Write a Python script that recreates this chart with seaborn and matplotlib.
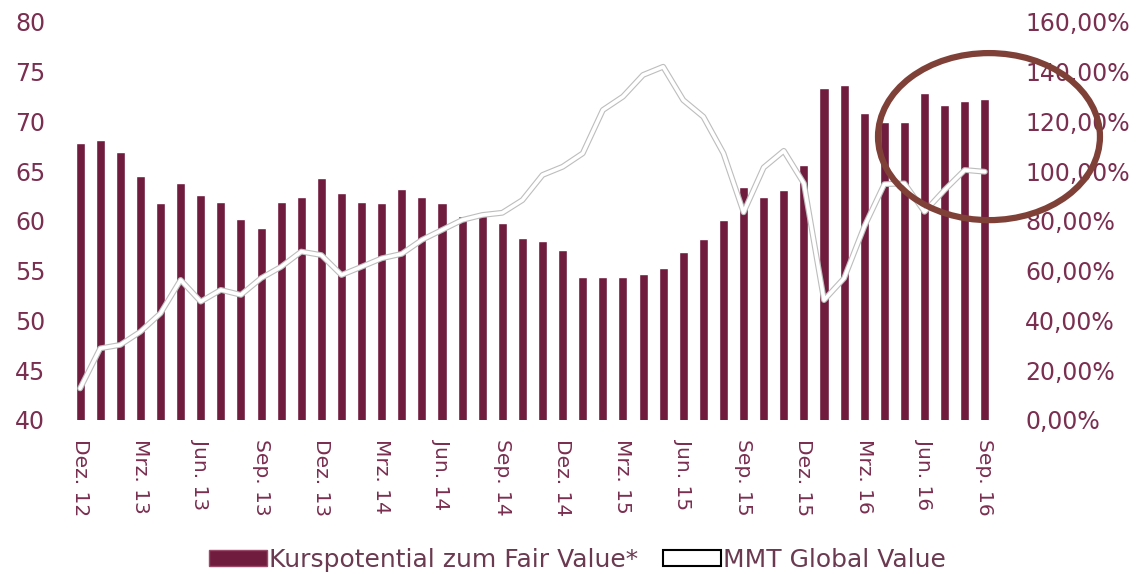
import numpy as np
import pandas as pd
import matplotlib
matplotlib.use("Agg")
import matplotlib.pyplot as plt
import matplotlib.patheffects as pe
from matplotlib.patches import Ellipse, Patch, Rectangle
import seaborn as sns

# month labels, Dez. 12 .. Sep. 16 (monthly)
month_names = ["Dez.", "Jan.", "Feb.", "Mrz.", "Apr.", "Mai", "Jun.", "Jul.", "Aug.", "Sep.", "Okt.", "Nov."]
years = [12] + [13] * 12 + [14] * 12 + [15] * 12 + [16] * 9
months = [month_names[i % 12] + " " + str(y) for i, y in enumerate(years)]

# Kurspotential zum Fair Value (left axis)
kurspotential = [67.8, 68.1, 66.9, 64.5, 61.8, 63.8, 62.6, 61.9, 60.2, 59.3,
                 61.9, 62.4, 64.3, 62.8, 61.9, 61.8, 63.2, 62.4, 61.8, 60.5,
                 60.7, 59.8, 58.3, 58.0, 57.1, 54.4, 54.4, 54.4, 54.7, 55.3,
                 56.9, 58.2, 60.1, 63.4, 62.4, 63.1, 65.6, 73.4, 73.7, 70.9,
                 69.9, 69.9, 72.9, 71.7, 72.1, 72.3]

# MMT Global Value (right axis, %)
mmt_global = [12.7, 28.8, 30.2, 35.5, 42.9, 56.3, 47.6, 52.3, 50.3, 57.0,
              61.6, 67.7, 66.3, 58.3, 61.6, 65.0, 66.8, 72.4, 76.4, 80.4,
              82.4, 83.3, 88.4, 98.5, 101.8, 107.2, 124.6, 130.0, 138.7, 142.0,
              128.6, 121.9, 107.2, 83.5, 101.5, 108.2, 95.1, 48.2, 57.0, 77.7,
              94.8, 95.1, 83.7, 92.5, 100.5, 99.8]

tick_every = 3
bar_color = "#701c3e"
text_color = "#7a2e50"

df = pd.DataFrame({"month": months, "kp": kurspotential, "mmt": mmt_global})
df["pos"] = np.arange(len(df))

sns.set_theme(style="white")
plt.rcParams["font.family"] = ["DejaVu Sans"]

fig = plt.figure(figsize=(11.44, 5.74), dpi=100)
ax = fig.add_axes([0.0542, 0.2683, 0.8225, 0.6934])

sns.barplot(data=df, x="month", y="kp", color=bar_color, width=0.45,
            saturation=1, ax=ax)
ax.set_ylim(40, 80)
ax.set_xlim(-0.9, len(df) - 0.1)
ax.set_yticks(np.arange(40, 81, 5))
ax.set_xticks(df["pos"][::tick_every])
ax.set_xticklabels(df["month"][::tick_every], rotation=270)
ax.set_xlabel("")
ax.set_ylabel("")
ax.tick_params(axis="y", labelsize=17, colors=text_color, length=0, pad=12)
ax.tick_params(axis="x", labelsize=14.5, colors=text_color, length=0, pad=14)

ax2 = ax.twinx()
sns.lineplot(data=df, x="pos", y="mmt", color="white", linewidth=2.6, ax=ax2,
             path_effects=[pe.Stroke(linewidth=4.2, foreground="#bdbdbd"), pe.Normal()])
ax2.set_ylim(0, 160)
ax2.set_yticks(np.arange(0, 161, 20))
ax2.set_yticklabels([f"{v},00%" for v in range(0, 161, 20)])
ax2.set_ylabel("")
ax2.tick_params(axis="y", labelsize=17, colors=text_color, length=0, pad=16)

for a in (ax, ax2):
    for s in a.spines.values():
        s.set_visible(False)

# highlight circle
ell = Ellipse((0.8645, 0.762), 0.194, 0.291, transform=fig.transFigure,
              fill=False, edgecolor="#7f4038", linewidth=4.5, zorder=10)
fig.patches.append(ell)

handles = [Patch(facecolor=bar_color, edgecolor="#9a4a68"),
           Rectangle((0, 0), 1, 1, facecolor="white", edgecolor="black", linewidth=1.5)]
fig.legend(handles, ["Kurspotential zum Fair Value*", "MMT Global Value"],
           loc="center", bbox_to_anchor=(0.505, 0.025), ncol=2, frameon=False,
           fontsize=18, handlelength=2.3, handleheight=0.6, handletextpad=0.1,
           columnspacing=1.0, labelcolor="#6b3a50")

fig.savefig("out.png", dpi=100)
